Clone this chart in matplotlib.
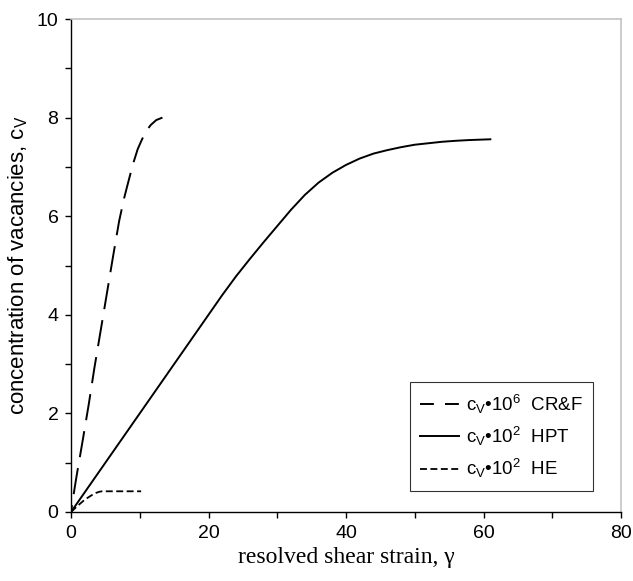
import matplotlib
matplotlib.use("Agg")
import matplotlib.pyplot as plt
from matplotlib.lines import Line2D
import numpy as np

plt.rcParams['font.family'] = ['Liberation Sans', 'DejaVu Sans']
plt.rcParams['mathtext.fontset'] = 'custom'
plt.rcParams['mathtext.rm'] = 'Liberation Sans'
plt.rcParams['mathtext.it'] = 'Liberation Sans'
plt.rcParams['lines.scale_dashes'] = False

# CR&F (c_v * 10^6)
crf_x = [0, 0.35, 0.8, 1.7, 2.6, 3.4, 4.4, 5.3, 6.1, 7.0, 7.7, 8.25, 9.0, 9.7, 10.3, 10.9, 11.6, 12.4, 13.3]
crf_y = [0, 0.33, 0.72, 1.45, 2.2, 2.92, 3.75, 4.5, 5.17, 5.9, 6.35, 6.65, 7.05, 7.36, 7.55, 7.72, 7.85, 7.95, 8.0]

# HPT (c_v * 10^2)
hpt_x = [0, 5, 10, 15, 20, 22, 24, 26, 28, 30, 32, 34, 36, 38, 40, 42, 44, 46, 48, 50, 52, 54, 56, 58, 61]
hpt_y = [0, 1.0, 2.0, 3.0, 4.0, 4.40, 4.78, 5.13, 5.47, 5.80, 6.13, 6.43, 6.68, 6.88, 7.04, 7.17, 7.27, 7.34, 7.40, 7.45, 7.48, 7.51, 7.53, 7.545, 7.56]

# HE (c_v * 10^2)
he_x = [0, 1, 2, 3, 3.6, 4.1, 4.5, 5, 10.2]
he_y = [0, 0.13, 0.25, 0.34, 0.385, 0.41, 0.42, 0.42, 0.42]

labels = [r'c$_\mathregular{V}$•10$^\mathregular{6}$  CR&F',
          r'c$_\mathregular{V}$•10$^\mathregular{2}$  HPT',
          r'c$_\mathregular{V}$•10$^\mathregular{2}$  HE']

fig = plt.figure(figsize=(6.33, 5.81), dpi=100)
ax = fig.add_axes([71/633, 1-512/581, 550/633, 493/581])

ax.plot(crf_x, crf_y, color='black', lw=1.4, linestyle=(14, (19, 8)))
ax.plot(hpt_x, hpt_y, color='black', lw=1.4)
ax.plot(he_x, he_y, color='black', lw=1.3, linestyle=(0, (5, 2.5)))

h1 = Line2D([], [], color='black', lw=1.4, linestyle=(0, (10, 8)))
h2 = Line2D([], [], color='black', lw=1.4)
h3 = Line2D([], [], color='black', lw=1.3, linestyle=(0, (5, 2.5)))

ax.set_xlim(0, 80)
ax.set_ylim(0, 10)
ax.set_xticks(np.arange(0, 81, 10))
ax.set_xticklabels([str(v) if v % 20 == 0 else '' for v in range(0, 81, 10)])
ax.set_yticks(np.arange(0, 11, 1))
ax.set_yticklabels([str(v) if v % 2 == 0 else '' for v in range(0, 11)])
ax.tick_params(direction='out', length=4, width=1, labelsize=14, colors='black', pad=5)

for s in ['top', 'right']:
    ax.spines[s].set_color('#c4c4c4')
    ax.spines[s].set_linewidth(1.2)
for s in ['left', 'bottom']:
    ax.spines[s].set_color('black')
    ax.spines[s].set_linewidth(1.0)

ax.set_xlabel('resolved shear strain, γ', fontsize=17, family=['Liberation Serif', 'DejaVu Serif'], labelpad=4)
ax.set_ylabel(r'concentration of vacancies, c$_\mathregular{V}$', fontsize=16, labelpad=5)

leg = ax.legend(handles=[h1, h2, h3], labels=labels, loc='lower right', bbox_to_anchor=(0.949, 0.043),
                fontsize=13.5, frameon=True, fancybox=False, edgecolor='black',
                handlelength=2.1, handletextpad=0.35, labelspacing=0.5, borderpad=0.55,
                borderaxespad=0)
leg.get_frame().set_linewidth(0.8)

fig.savefig('out.png', dpi=100, facecolor='white')
